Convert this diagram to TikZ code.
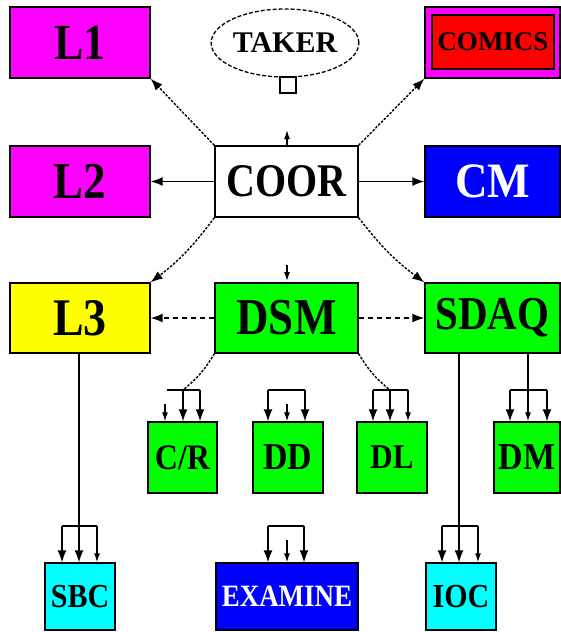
\documentclass[tikz,border=0pt]{standalone}
\usepackage{graphicx}
\usepackage{fontspec}
\setmainfont{Liberation Serif}
\usetikzlibrary{arrows.meta,shapes.geometric}
\definecolor{cmag}{RGB}{255,0,255}
\definecolor{cred}{RGB}{255,0,0}
\definecolor{cblue}{RGB}{0,0,255}
\definecolor{cgreen}{RGB}{0,255,0}
\definecolor{cyel}{RGB}{255,255,0}
\definecolor{ccyan}{RGB}{0,255,255}
\newcommand\lbl[3]{\scalebox{1}[#2]{\fontsize{#1}{#1}\selectfont\bfseries #3}}
\tikzset{
  box/.style={draw=black, line width=1.3pt, inner sep=0pt, anchor=center, rectangle},
  conn/.style={line width=1.4pt},
  dconn/.style={line width=1.5pt, dash pattern=on 5pt off 4pt},
  fine/.style={line width=1.4pt, dash pattern=on 2.5pt off 1.5pt},
  bigtip/.style={-{Latex[length=12pt,width=9pt]}},
  smalltip/.style={-{Latex[length=9pt,width=6pt]}},
}
\begin{document}
\begin{tikzpicture}[x=1pt,y=-1pt]
\useasboundingbox (0,0) rectangle (561,632);
% row 1
\node[box, fill=cmag, minimum width=140pt, minimum height=71pt] (L1) at (80,42.5) {\lbl{44}{1.15}{L1}};
\node[draw=black, line width=1.3pt, dash pattern=on 4pt off 2pt, ellipse, inner sep=0pt, minimum width=145pt, minimum height=68pt] (TAKER) at (285,43) {\lbl{30}{1.0}{TAKER}};
\node[box, line width=1.3pt, fill=white, minimum width=16pt, minimum height=16pt] (TSQ) at (288,85) {};
\node[box, fill=cmag, minimum width=135pt, minimum height=71pt] (COMOUT) at (492.5,42.5) {};
\node[box, fill=cred, minimum width=122pt, minimum height=54pt] (COMICS) at (493,42) {\lbl{27}{1.0}{COMICS}};
% row 2
\node[box, fill=cmag, minimum width=140pt, minimum height=71pt] (L2) at (80,181.5) {\lbl{45}{1.15}{L2}};
\node[box, fill=white, minimum width=143pt, minimum height=71pt] (COOR) at (286.5,181.5) {\lbl{40}{1.17}{COOR}};
\node[box, fill=cblue, minimum width=135pt, minimum height=71pt] (CM) at (492.5,181.5) {\color{white}\lbl{45}{1.1}{CM}};
% row 3
\node[box, fill=cyel, minimum width=140pt, minimum height=70pt] (L3) at (80,318) {\lbl{46}{1.15}{L3}};
\node[box, fill=cgreen, minimum width=143pt, minimum height=70pt] (DSM) at (286.5,318) {\lbl{45}{1.15}{DSM}};
\node[box, fill=cgreen, minimum width=135pt, minimum height=70pt] (SDAQ) at (492.5,318) {\lbl{41}{1.15}{SDAQ}};
% row 4
\node[box, fill=cgreen, minimum width=69pt, minimum height=71pt] (CR) at (182.5,457.5) {\lbl{32}{1.12}{C/R}};
\node[box, fill=cgreen, minimum width=70pt, minimum height=71pt] (DD) at (288,457.5) {\lbl{34}{1.12}{DD}};
\node[box, fill=cgreen, minimum width=70pt, minimum height=71pt] (DL) at (392,457.5) {\lbl{31}{1.12}{DL}};
\node[box, fill=cgreen, minimum width=66pt, minimum height=71pt] (DM) at (527,457.5) {\lbl{34}{1.12}{DM}};
% row 5
\node[box, fill=ccyan, minimum width=70pt, minimum height=67pt] (SBC) at (80,596.5) {\lbl{30}{1.12}{SBC}};
\node[box, fill=cblue, minimum width=142pt, minimum height=67pt] (EXAMINE) at (287,596.5) {\color{white}\lbl{27}{1.15}{EXAMINE}};
\node[box, fill=ccyan, minimum width=70pt, minimum height=67pt] (IOC) at (461,596.5) {\lbl{30}{1.12}{IOC}};

% COOR connectors
\draw[fine, bigtip] (COOR.north west) -- (L1.south east);
\draw[fine, bigtip] (COOR.north east) -- (COMOUT.south west);
\draw[conn, bigtip] (COOR.west) -- (L2.east);
\draw[conn, bigtip] (COOR.east) -- (CM.west);
\draw[fine, bigtip] (COOR.south west) to[bend left=8] (L3.north east);
\draw[fine, bigtip] (COOR.south east) to[bend right=8] (SDAQ.north west);
% stubs above COOR and DSM
\coordinate (cstub) at (287,130);
\draw[line width=1.3pt, smalltip] (COOR.north -| cstub) -- (cstub);
\coordinate (dstubA) at (287,265);
\coordinate (dstubB) at (287,281);
\draw[line width=1.3pt, smalltip] (dstubA) -- (dstubB);
% DSM connectors
\draw[dconn, bigtip] (DSM.west) -- (L3.east);
\draw[dconn, bigtip] (DSM.east) -- (SDAQ.west);
% brackets row 4
\coordinate (crM) at (183,390);
\coordinate (crL) at (167,390);
\coordinate (crR) at (200,390);
\coordinate (crS) at (165,404);
\draw[fine] (DSM.south west) to[bend left=10] (crM);
\draw[conn] (crL) -- (crR);
\draw[conn, bigtip] (crM) -- (crM |- CR.north);
\draw[conn, bigtip] (crR) -- (crR |- CR.north);
\draw[line width=1.3pt, smalltip] (crS) -- (crS |- CR.north);
\coordinate (ddL) at (268,390);
\coordinate (ddR) at (305,390);
\coordinate (ddS) at (287,404);
\draw[conn] (ddL) -- (ddR);
\draw[conn, bigtip] (ddL) -- (ddL |- DD.north);
\draw[conn, bigtip] (ddR) -- (ddR |- DD.north);
\draw[line width=1.3pt, smalltip] (ddS) -- (ddS |- DD.north);
\coordinate (dlL) at (373,390);
\coordinate (dlM) at (390,390);
\coordinate (dlR) at (408,390);
\draw[fine] (DSM.south east) to[bend right=10] (dlM);
\draw[conn] (dlL) -- (dlR);
\draw[conn, bigtip] (dlL) -- (dlL |- DL.north);
\draw[conn, bigtip] (dlM) -- (dlM |- DL.north);
\draw[conn, smalltip] (dlR) -- (dlR |- DL.north);
\coordinate (dmL) at (510,390);
\coordinate (dmM) at (528,390);
\coordinate (dmR) at (547,390);
\draw[conn] (SDAQ.south -| dmM) -- (dmM);
\draw[conn] (dmL) -- (dmR);
\draw[conn, bigtip] (dmL) -- (dmL |- DM.north);
\draw[conn, smalltip] (dmM) -- (dmM |- DM.north);
\draw[conn, bigtip] (dmR) -- (dmR |- DM.north);
% brackets row 5
\coordinate (sbL) at (62,526);
\coordinate (sbM) at (79,526);
\coordinate (sbR) at (97,526);
\draw[conn] (L3.south -| sbM) -- (sbM);
\draw[conn] (sbL) -- (sbR);
\draw[conn, bigtip] (sbL) -- (sbL |- SBC.north);
\draw[conn, bigtip] (sbM) -- (sbM |- SBC.north);
\draw[conn, smalltip] (sbR) -- (sbR |- SBC.north);
\coordinate (exL) at (268,526);
\coordinate (exR) at (304,526);
\coordinate (exS) at (287,540);
\draw[conn] (exL) -- (exR);
\draw[conn, bigtip] (exL) -- (exL |- EXAMINE.north);
\draw[conn, bigtip] (exR) -- (exR |- EXAMINE.north);
\draw[line width=1.3pt, smalltip] (exS) -- (exS |- EXAMINE.north);
\coordinate (ioL) at (442,526);
\coordinate (ioM) at (459,526);
\coordinate (ioR) at (478,526);
\draw[conn] (SDAQ.south -| ioM) -- (ioM);
\draw[conn] (ioL) -- (ioR);
\draw[conn, bigtip] (ioL) -- (ioL |- IOC.north);
\draw[conn, bigtip] (ioM) -- (ioM |- IOC.north);
\draw[conn, smalltip] (ioR) -- (ioR |- IOC.north);
\end{tikzpicture}
\end{document}
